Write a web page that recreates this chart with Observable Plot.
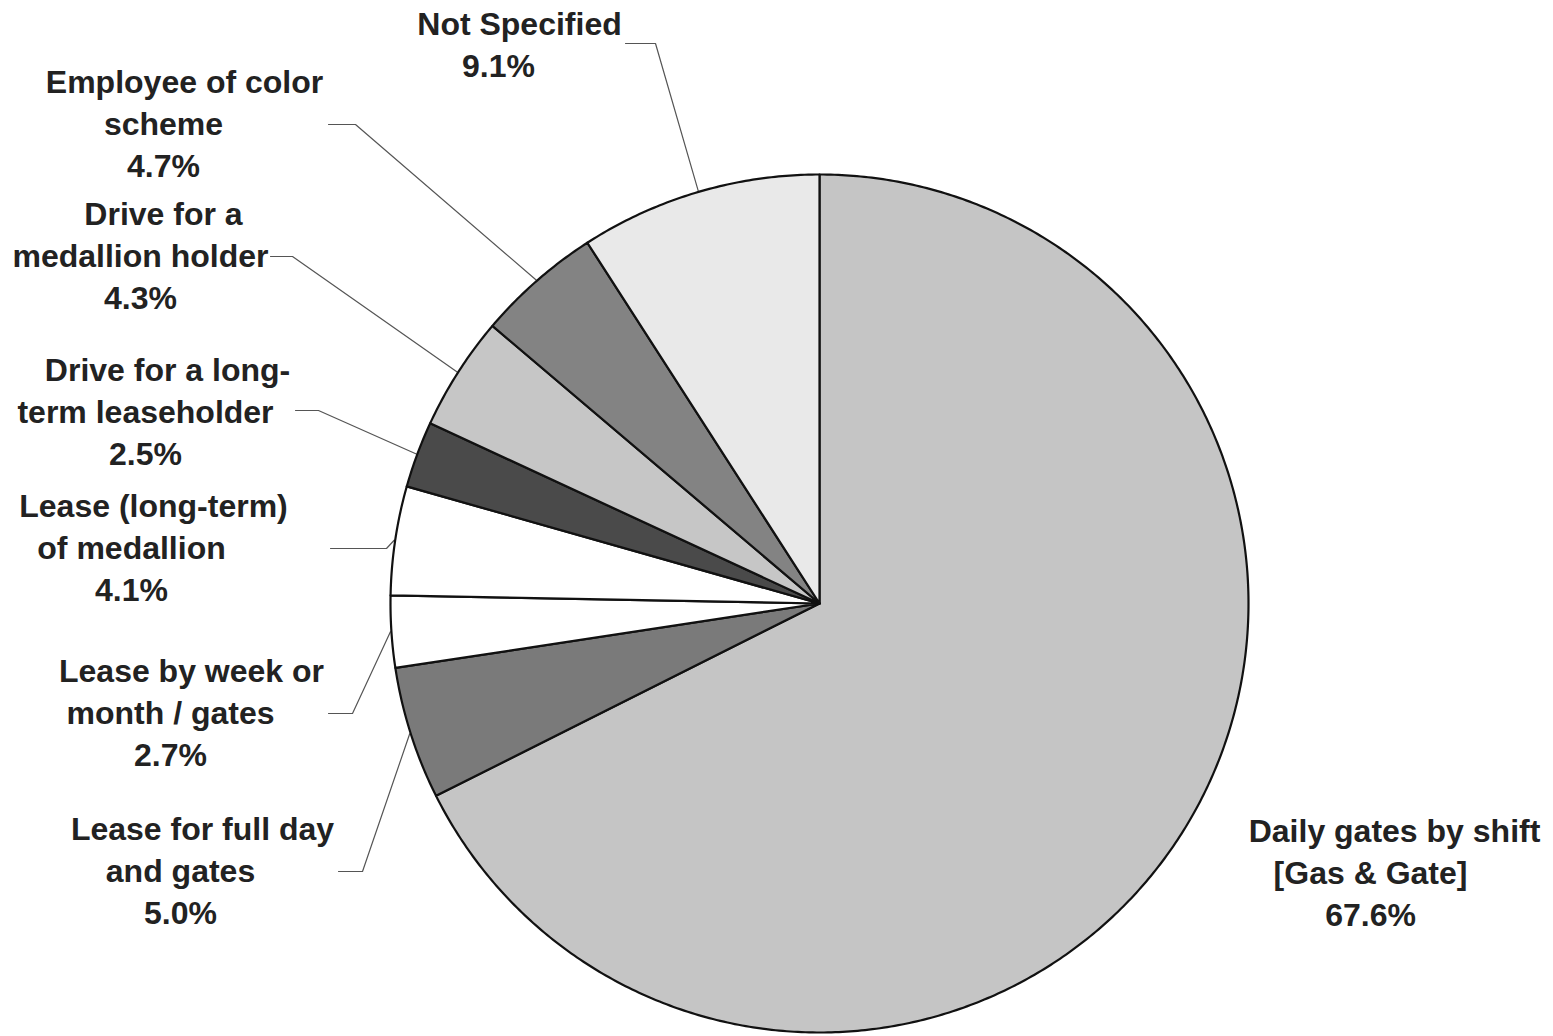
<!DOCTYPE html>
<html><head><meta charset="utf-8">
<script src="https://cdn.jsdelivr.net/npm/d3@7"></script>
<script src="https://cdn.jsdelivr.net/npm/@observablehq/plot@0.6"></script>
<style>body{margin:0;background:#fff}</style>
</head><body><div id="chart"></div>
<script>
// ---- data ----
const categories = [
  "Daily gates by shift [Gas & Gate]",
  "Lease for full day and gates",
  "Lease by week or month / gates",
  "Lease (long-term) of medallion",
  "Drive for a long-term leaseholder",
  "Drive for a medallion holder",
  "Employee of color scheme",
  "Not Specified"
];
const labelLines = [
  ["Daily gates by shift", "[Gas & Gate]"],
  ["Lease for full day", "and gates"],
  ["Lease by week or", "month / gates"],
  ["Lease (long-term)", "of medallion"],
  ["Drive for a long-", "term leaseholder"],
  ["Drive for a", "medallion holder"],
  ["Employee of color", "scheme"],
  ["Not Specified"]
];
const percents = [67.6, 5.0, 2.7, 4.1, 2.5, 4.3, 4.7, 9.1];
const fills = ["#c5c5c5", "#7a7a7a", "#ffffff", "#ffffff", "#4a4a4a", "#c6c6c6", "#838383", "#e9e9e9"];

// ---- layout ----
const W = 1553, H = 1036;
const CX = 819, CY = 603, R = 429;
const LINE_GAP = 42;
// label: [centre x of later lines, centre y of first line, extra x shift of first line]
const labelPos = [[1370, 831, 24], [180, 829, 22], [170, 671, 21], [131, 506, 22], [145, 370, 22], [140, 214, 23], [163, 82, 21], [498, 24, 21]];
// leader: [label end x, y, elbow x, y]  (null = no leader)
const leaderPos = [null, [338, 871, 362, 871], [328, 713, 352, 713], [330, 548, 386, 548], [295, 410, 318, 410], [270, 256, 292, 256], [328, 124, 355, 124], [625, 43, 655, 43]];

// ---- geometry from data ----
const total = d3.sum(percents);
const pt = (frac, r = R) => {
  const a = 2 * Math.PI * frac;
  return [CX + r * Math.sin(a), CY - r * Math.cos(a)];
};
const slicePts = [];
const leaderPts = [];
const labels = [];
let cum = 0;
percents.forEach((p, i) => {
  const f0 = cum / total, f1 = (cum + p) / total;
  const cat = categories[i];
  slicePts.push({cat, x: CX, y: CY});
  const n = Math.max(2, Math.ceil((f1 - f0) * 720));
  for (let k = 0; k <= n; k++) {
    const [x, y] = pt(f0 + (f1 - f0) * k / n);
    slicePts.push({cat, x, y});
  }
  const fm = (f0 + f1) / 2;
  if (leaderPos[i]) {
    const [lx, ly, ex, ey] = leaderPos[i];
    const [px, py] = pt(fm, R + 1);
    leaderPts.push({cat, x: lx, y: ly}, {cat, x: ex, y: ey}, {cat, x: px, y: py});
  }
  const lines = [...labelLines[i], d3.format(".1f")(p) + "%"];
  const [lx, ly, dx] = labelPos[i];
  lines.forEach((t, j) => labels.push({cat, text: t, x: lx + (j === 0 ? dx : 0), y: ly + j * LINE_GAP}));
  cum += p;
});

const chart = Plot.plot({
  width: W, height: H,
  margin: 0,
  x: {domain: [0, W], range: [0, W], axis: null},
  y: {domain: [0, H], range: [0, H], axis: null},
  color: {type: "ordinal", domain: categories, range: fills},
  style: {background: "#fff"},
  marks: [
    Plot.line(leaderPts, {x: "x", y: "y", z: "cat", stroke: "#555", strokeWidth: 1.2}),
    Plot.line(slicePts, {x: "x", y: "y", z: "cat", fill: "cat", stroke: "#111", strokeWidth: 2.2,
      strokeLinejoin: "round", curve: "linear-closed"}),
    Plot.text(labels, {x: "x", y: "y", text: "text", textAnchor: "middle", lineAnchor: "middle",
      fontSize: 32, fontWeight: "bold", fontFamily: "'Liberation Sans', Arial, sans-serif",
      fill: "#222"})
  ]
});
document.getElementById("chart").appendChild(chart);
</script>
</body></html>
